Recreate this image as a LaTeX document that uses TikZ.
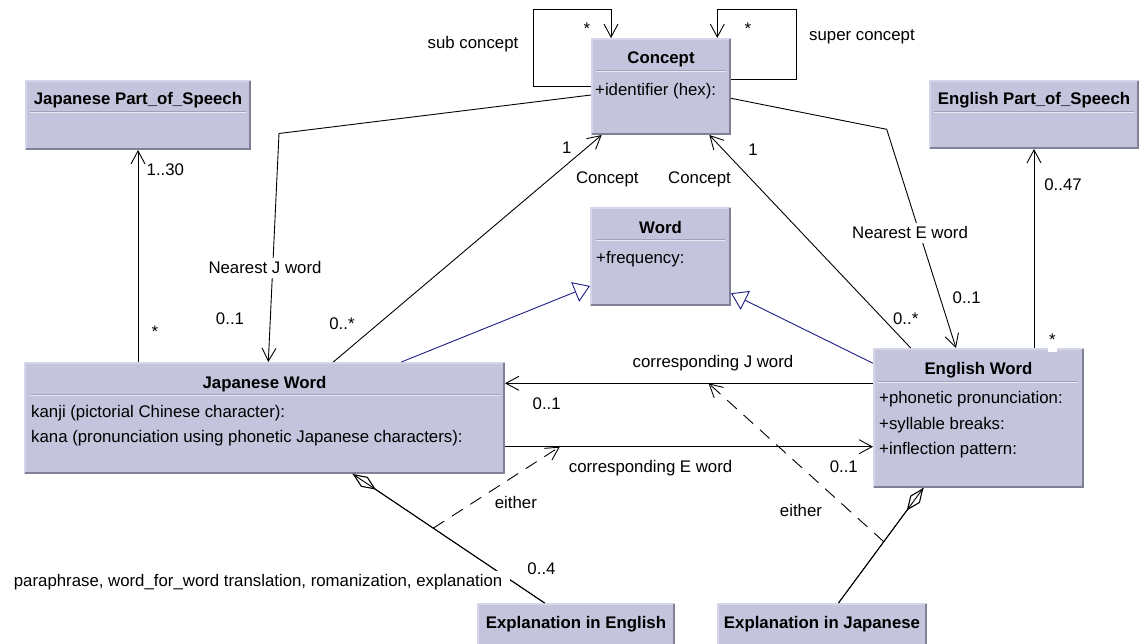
\documentclass[tikz,border=0pt]{standalone}
\usepackage{fontspec}
\setmainfont{Liberation Sans}
\usetikzlibrary{arrows.meta,calc}

\definecolor{classfill}{RGB}{196,196,221}
\definecolor{classlight}{RGB}{214,214,234}
\definecolor{classdark}{RGB}{128,128,150}
\definecolor{seplight}{RGB}{236,236,246}
\definecolor{sepdark}{RGB}{160,160,186}
\definecolor{genblue}{RGB}{30,30,135}

\newcommand{\txtsize}{\fontsize{16.8}{20}\selectfont}

\tikzset{
  classbox/.style={fill=classfill, draw=none, inner sep=0pt, outer sep=0pt, anchor=north west},
  classtitle/.style={font=\txtsize\bfseries, inner sep=0pt, anchor=base},
  classattr/.style={font=\txtsize, inner sep=0pt, anchor=base west},
  lbl/.style={font=\txtsize, inner sep=0pt, anchor=base},
  whitelbl/.style={font=\txtsize, fill=white, inner xsep=3pt, inner ysep=4pt, anchor=base},
  assoc/.style={line width=0.9pt, -{Straight Barb[length=13pt,width=14pt,line width=0.9pt]}},
  gen/.style={genblue, line width=0.9pt, -{Triangle[open,length=16pt,width=21pt,line width=0.9pt]}},
  agg/.style={line width=0.9pt, {Diamond[open,length=28pt,width=12pt,line width=1.1pt]}-},
  plainline/.style={line width=0.9pt},
  eitherdep/.style={line width=0.9pt, dash pattern=on 13pt off 9pt, -{Straight Barb[length=13pt,width=14pt,line width=0.9pt]}},
}

% a class box with a bevelled border: name, x0, y0, x1, y1
\newcommand{\classbox}[5]{%
  \node[classbox, minimum width={(#4)-(#2)}, minimum height={(#5)-(#3)}] (#1) at (#2,#3) {};
  \draw[classlight, line width=2pt] ($(#1.south west)+(1,-1)$) -- ($(#1.north west)+(1,1)$) -- ($(#1.north east)+(-1,1)$);
  \draw[classdark, line width=2pt] ($(#1.south west)+(1,-1)$) -- ($(#1.south east)+(-1,-1)$) -- ($(#1.north east)+(-1,1)$);
}
% compartment separator: x0, x1, y
\newcommand{\sepline}[3]{%
  \draw[sepdark, line width=0.8pt] (#1,#3-0.6) -- (#2,#3-0.6);
  \draw[seplight, line width=1.2pt] (#1,#3+0.6) -- (#2,#3+0.6);
}

\begin{document}
\begin{tikzpicture}[x=1pt,y=-1pt]
\fill[white] (0,0) rectangle (1143,644);
\useasboundingbox (0,0) rectangle (1143,644);

% ---------- classes ----------
\classbox{concept}{591}{38}{731}{135}
\node[classtitle] (conceptT) at (661,63.5) {Concept};
\sepline{596}{726}{70.7}
\node[classattr] (conceptA) at (595,96) {+identifier (hex):};

\classbox{jpos}{25}{80}{251}{150}
\node[classtitle] (jposT) at (138,105) {Japanese Part\_of\_Speech};
\sepline{30}{246}{112.3}

\classbox{epos}{929}{80}{1139}{149}
\node[classtitle] (eposT) at (1034,105) {English Part\_of\_Speech};
\sepline{934}{1134}{112.3}

\classbox{word}{590}{207}{731}{306}
\node[classtitle] (wordT) at (660.5,233.3) {Word};
\sepline{596}{725}{240}
\node[classattr] (wordA) at (596,264) {+frequency:};

\classbox{jword}{24}{362}{505}{474}
\node[classtitle] (jwordT) at (264.5,388.3) {Japanese Word};
\sepline{30}{499}{395}
\node[classattr] (jwordA) at (31,417.3) {kanji (pictorial Chinese character):};
\node[classattr] (jwordB) at (31,442.3) {kana (pronunciation using phonetic Japanese characters):};

\classbox{eword}{873}{348}{1084}{488}
\node[classtitle] (ewordT) at (978.5,374.3) {English Word};
\sepline{878}{1078}{381.7}
\node[classattr] (ewordA) at (879,403.3) {+phonetic pronunciation:};
\node[classattr] (ewordB) at (879,429.3) {+syllable breaks:};
\node[classattr] (ewordC) at (879,454) {+inflection pattern:};

\classbox{expE}{477}{603}{675}{660}
\node[classtitle] (expET) at (576,628.7) {Explanation in English};

\classbox{expJ}{717}{603}{927}{660}
\node[classtitle] (expJT) at (822,628.7) {Explanation in Japanese};

% ---------- concept hierarchy (self associations) ----------
\draw[assoc] (concept.west) -| (533.3,9) -| ($(concept.north west)+(20,0)$);
\draw[assoc] ($(concept.north east)+(0,41)$) -| (796,9) -| ($(concept.north west)+(126.3,0)$);
\node[lbl] (subL) at (473,49) {sub concept};
\node[lbl] (supL) at (862,41) {super concept};
\node[lbl] (subM) at (587,34.5) {*};
\node[lbl] (supM) at (748,34.5) {*};

% ---------- nearest words ----------
\draw[assoc] ($(concept.north west)+(0,57)$) -- (279,133.5) -- ($(jword.north west)+(244.3,0)$);
\node[whitelbl] (nearJ) at (265,274) {Nearest J word};
\node[lbl] (nearJm) at (230,324) {0..1};

\draw[assoc] ($(concept.north east)+(0,60.3)$) -- (886.7,129.3) -- ($(eword.north west)+(83,0)$);
\node[whitelbl] (nearE) at (910,239) {Nearest E word};
\node[lbl] (nearEm) at (966.7,304) {0..1};

% ---------- words to concept ----------
\draw[assoc] ($(jword.north west)+(309.3,0)$) -- ($(concept.south west)+(10.7,0)$);
\node[lbl] (jcOne) at (566.7,154) {1};
\node[lbl] (jcRole) at (607.3,183.5) {Concept};
\node[lbl] (jcMany) at (342,330) {0..*};

\draw[assoc] ($(eword.north west)+(37.7,0)$) -- ($(concept.south west)+(118.3,0)$);
\node[lbl] (ecOne) at (753,156) {1};
\node[lbl] (ecRole) at (699.5,184) {Concept};
\node[lbl] (ecMany) at (905.7,324) {0..*};

% ---------- parts of speech ----------
\draw[assoc] (jword.north -| jpos.south) -- (jpos.south);
\node[lbl] (jposM) at (165.4,176) {1..30};
\node[lbl] (jposS) at (155,337.5) {*};

\draw[assoc] (eword.north -| epos.south) -- (epos.south);
\node[lbl] (eposM) at (1063,191) {0..47};
\node[font=\txtsize, fill=white, inner sep=1pt, text depth=5pt, anchor=base] (eposS) at (1052.3,345.5) {*};

% ---------- generalisation ----------
\draw[gen] ($(jword.north west)+(377.4,0)$) -- ($(word.north west)+(0,79)$);
\draw[gen] ($(eword.north west)+(0,15.3)$) -- ($(word.north east)+(0,86.3)$);

% ---------- corresponding words ----------
\draw[assoc] ($(eword.north west)+(0,35.3)$) -- ($(jword.north east)+(0,21.3)$);
\node[lbl] (corrJ) at (713,367) {corresponding J word};
\node[lbl] (corrJm) at (546.7,409) {0..1};

\draw[assoc] ($(jword.north east)+(0,84.7)$) -- ($(eword.north west)+(0,98.7)$);
\node[lbl] (corrE) at (650.6,472) {corresponding E word};
\node[lbl] (corrEm) at (843.8,472) {0..1};

% ---------- explanations (aggregation) ----------
\coordinate (aggJs) at ($(jword.south west)+(328.7,0)$);
\coordinate (aggJe) at ($(expE.north west)+(67.6,0)$);
\draw[plainline] (aggJs) -- (aggJe);
\draw[agg] (aggJs) -- (aggJe);

\coordinate (aggEs) at ($(eword.south west)+(50.4,0)$);
\coordinate (aggEe) at ($(expJ.north west)+(121.5,0)$);
\draw[plainline] (aggEs) -- (aggEe);
\draw[agg] (aggEs) -- (aggEe);

\node[font=\txtsize, fill=white, inner xsep=8pt, inner ysep=3pt, anchor=base east] (para) at (510.5,586) {paraphrase, word\_for\_word translation, romanization, explanation};
\node[lbl] (aggJm) at (541.5,574) {0..4};

% ---------- "either" dependencies ----------
\coordinate (eitherJs) at ($(aggJs)!0.42!(aggJe)$);
\coordinate (eitherJe) at ($($(jword.north east)+(0,84.7)$)!0.149!($(eword.north west)+(0,98.7)$)$);
\draw[eitherdep] (eitherJs) -- (eitherJe);
\node[lbl] (eitherJ) at (515.9,508) {either};

\coordinate (eitherEs) at ($(aggEs)!0.467!(aggEe)$);
\coordinate (eitherEe) at ($($(eword.north west)+(0,35.3)$)!0.447!($(jword.north east)+(0,21.3)$)$);
\draw[eitherdep] (eitherEs) -- (eitherEe);
\node[lbl] (eitherE) at (801,516) {either};

\end{tikzpicture}
\end{document}
